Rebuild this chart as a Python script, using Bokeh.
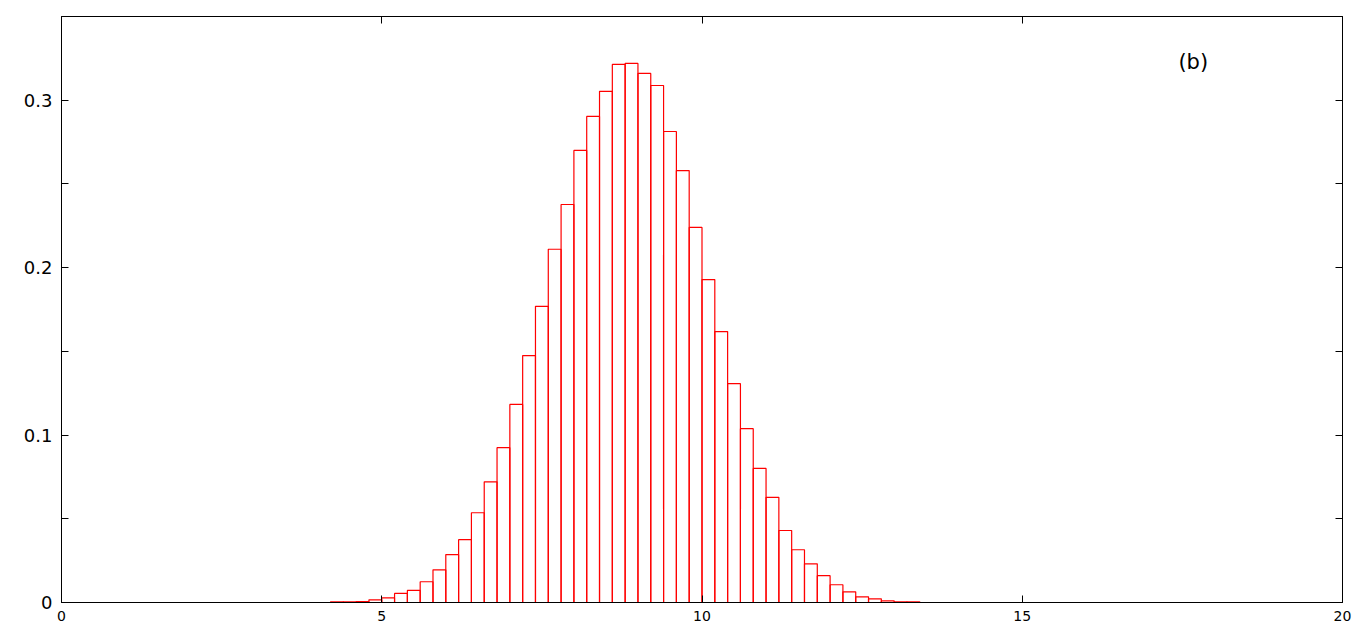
from bokeh.plotting import figure
from bokeh.models import Range1d, FixedTicker, LinearAxis, Label
from bokeh.embed import file_html
from bokeh.resources import INLINE

# Histogram data (bin left edges, width 0.2)
bin_width = 0.2
bin_left = [4.2, 4.4, 4.6, 4.8, 5.0, 5.2, 5.4, 5.6, 5.8, 6.0, 6.2, 6.4, 6.6, 6.8,
            7.0, 7.2, 7.4, 7.6, 7.8, 8.0, 8.2, 8.4, 8.6, 8.8, 9.0, 9.2, 9.4, 9.6,
            9.8, 10.0, 10.2, 10.4, 10.6, 10.8, 11.0, 11.2, 11.4, 11.6, 11.8, 12.0,
            12.2, 12.4, 12.6, 12.8, 13.0, 13.2]
freq = [0.0004, 0.0004, 0.0005, 0.0016, 0.0028, 0.0054, 0.0072, 0.0124, 0.0195,
        0.0286, 0.0375, 0.0536, 0.0721, 0.0925, 0.1183, 0.1475, 0.1769, 0.2110,
        0.2377, 0.2700, 0.2903, 0.3053, 0.3214, 0.3220, 0.3160, 0.3088, 0.2813,
        0.2580, 0.2240, 0.1929, 0.1618, 0.1307, 0.1038, 0.0801, 0.0628, 0.0430,
        0.0315, 0.0231, 0.0160, 0.0106, 0.0064, 0.0034, 0.0022, 0.0010, 0.0004,
        0.0004]

x_ticks = [0, 5, 10, 15, 20]
y_ticks = [0, 0.05, 0.1, 0.15, 0.2, 0.25, 0.3]
y_labels = {0: "0", 0.05: "", 0.1: "0.1", 0.15: "", 0.2: "0.2", 0.25: "", 0.3: "0.3"}
panel_label = "(b)"

FONT = "DejaVu Sans"

p = figure(width=1358, height=632, x_range=Range1d(0, 20), y_range=Range1d(0, 0.35),
           output_backend="svg", toolbar_location=None,
           min_border_left=61, min_border_right=16, min_border_top=16, min_border_bottom=30)
p.xgrid.visible = False
p.ygrid.visible = False
p.outline_line_color = "black"
p.outline_line_width = 1
p.background_fill_color = "white"
p.border_fill_color = "white"

right_edges = [l + bin_width for l in bin_left]
p.quad(left=bin_left, right=right_edges, bottom=0, top=freq,
       fill_alpha=0, line_color="#ff0000", line_width=1.2)

# bottom axis
xa = p.xaxis[0]
xa.ticker = FixedTicker(ticks=x_ticks)
xa.major_tick_in = 7
xa.major_tick_out = 0
xa.minor_tick_in = 0
xa.minor_tick_out = 0
xa.major_label_standoff = 8
xa.major_label_text_font = FONT
xa.major_label_text_font_size = "14px"
xa.major_label_text_color = "black"
xa.axis_line_color = "black"

# left axis
ya = p.yaxis[0]
ya.ticker = FixedTicker(ticks=y_ticks)
ya.major_label_overrides = y_labels
ya.major_tick_in = 7
ya.major_tick_out = 0
ya.minor_tick_in = 0
ya.minor_tick_out = 0
ya.major_label_standoff = 9
ya.major_label_text_font = FONT
ya.major_label_text_font_size = "18px"
ya.major_label_text_color = "black"
ya.axis_line_color = "black"

# mirrored ticks on right and top
ra = LinearAxis(ticker=FixedTicker(ticks=y_ticks), major_tick_in=7, major_tick_out=0,
                minor_tick_in=0, minor_tick_out=0, major_label_standoff=0,
                major_label_text_font_size="1px", major_label_text_alpha=0,
                axis_line_color="black")
p.add_layout(ra, "right")
ta = LinearAxis(ticker=FixedTicker(ticks=x_ticks), major_tick_in=7, major_tick_out=0,
                minor_tick_in=0, minor_tick_out=0, major_label_standoff=0,
                major_label_text_font_size="1px", major_label_text_alpha=0,
                axis_line_color="black")
p.add_layout(ta, "above")

# panel label
p.add_layout(Label(x=17.67, y=0.3228, text=panel_label, text_align="center",
                   text_baseline="middle", text_font=FONT, text_font_size="21px",
                   text_color="black"))

open("out.html", "w").write(file_html(p, INLINE))
